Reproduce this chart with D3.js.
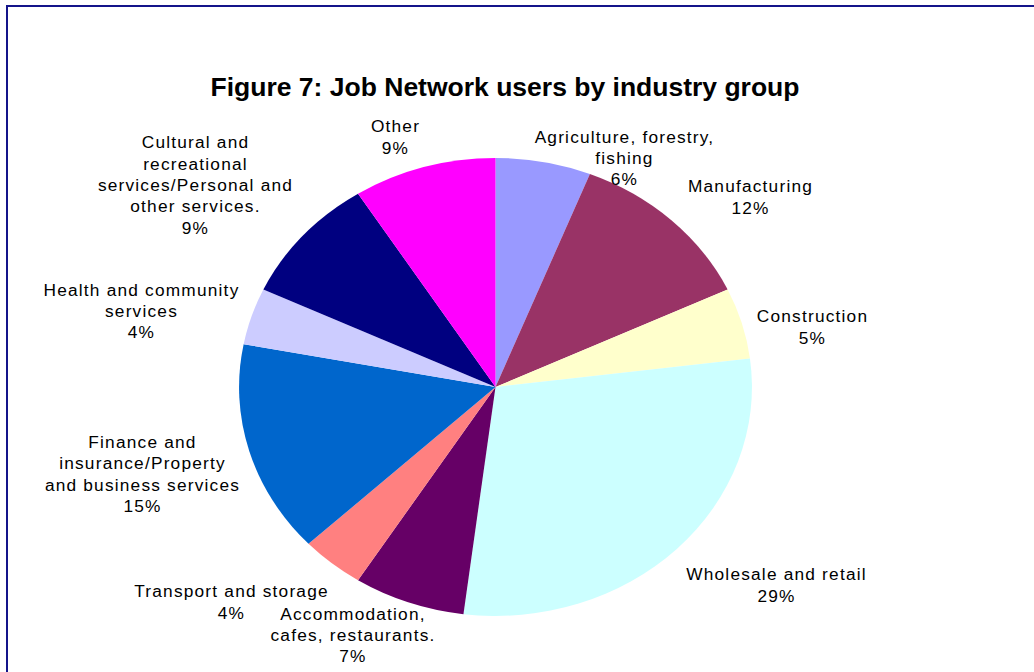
<!DOCTYPE html>
<html>
<head>
<meta charset="utf-8">
<script src="https://cdn.jsdelivr.net/npm/d3@7"></script>
<style>
  html, body { margin: 0; padding: 0; background: #fff; }
  svg { display: block; }
</style>
</head>
<body>
<svg id="chart" width="1034" height="672"></svg>
<script>
// Industry groups, in clockwise order from 12 o'clock
const categories = [
  "Agriculture, forestry, fishing",
  "Manufacturing",
  "Construction",
  "Wholesale and retail",
  "Accommodation, cafes, restaurants.",
  "Transport and storage",
  "Finance and insurance/Property and business services",
  "Health and community services",
  "Cultural and recreational services/Personal and other services.",
  "Other"
];
// Share of Job Network users (%)
const shares = [6, 12, 5, 29, 7, 4, 15, 4, 9, 9];
// Label text broken into lines as displayed
const labelLines = [
  ["Agriculture, forestry,", "fishing"],
  ["Manufacturing"],
  ["Construction"],
  ["Wholesale and retail"],
  ["Accommodation,", "cafes, restaurants."],
  ["Transport and storage"],
  ["Finance and", "insurance/Property", "and business services"],
  ["Health and community", "services"],
  ["Cultural and", "recreational", "services/Personal and", "other services."],
  ["Other"]
];
const sliceColors = ["#9999FF", "#993366", "#FFFFCC", "#CCFFFF", "#660066",
                     "#FF8080", "#0066CC", "#CCCCFF", "#000080", "#FF00FF"];

// Label block centres relative to the pie centre (layout only)
const labelOffsets = [
  [129, -229], [255, -190], [317, -60], [281, 198], [-142.5, 248],
  [-264, 215], [-353, 87], [-354, -76], [-300, -202], [-100, -250]
];

const title = "Figure 7: Job Network users by industry group";

const svg = d3.select("#chart");
const W = 1034, H = 672;
const cx = 495.5, cy = 387, rx = 256.5, ry = 229;
const lineH = 21.3;

// frame
svg.append("rect")
  .attr("x", 7).attr("y", 6)
  .attr("width", W + 20).attr("height", H + 20)
  .attr("fill", "#fff")
  .attr("stroke", "#14148a")
  .attr("stroke-width", 2);

svg.append("text")
  .attr("x", 505).attr("y", 96)
  .attr("text-anchor", "middle")
  .attr("font-family", "Liberation Sans, Arial, sans-serif")
  .attr("font-weight", "bold")
  .attr("font-size", 26.5)
  .attr("fill", "#000")
  .text(title);

const data = categories.map((c, i) => ({ name: c, value: shares[i], i }));
const pie = d3.pie().value(d => d.value).sort(null);
const arcs = pie(data);
const arc = d3.arc().innerRadius(0).outerRadius(1);

// pie drawn on a unit circle, stretched to an ellipse
const g = svg.append("g")
  .attr("transform", `translate(${cx},${cy}) scale(${rx},${ry})`);
g.selectAll("path")
  .data(arcs)
  .join("path")
  .attr("d", arc)
  .attr("fill", d => sliceColors[d.data.i])
  .attr("stroke", "none");

// data labels
const lg = svg.append("g")
  .attr("font-family", "Liberation Sans, Arial, sans-serif")
  .attr("font-size", 17.3)
  .attr("letter-spacing", 1.2)
  .attr("fill", "#000")
  .attr("text-anchor", "middle");

arcs.forEach(a => {
  const i = a.data.i;
  const lines = labelLines[i].concat([d3.format("d")(a.data.value) + "%"]);
  const [ox, oy] = labelOffsets[i];
  const top = cy + oy - (lines.length - 1) * lineH / 2;
  const t = lg.append("text")
    .attr("x", cx + ox)
    .attr("y", top)
    .attr("dominant-baseline", "central");
  lines.forEach((ln, k) => {
    t.append("tspan")
      .attr("x", cx + ox)
      .attr("dy", k === 0 ? 0 : lineH)
      .text(ln);
  });
});
</script>
</body>
</html>
